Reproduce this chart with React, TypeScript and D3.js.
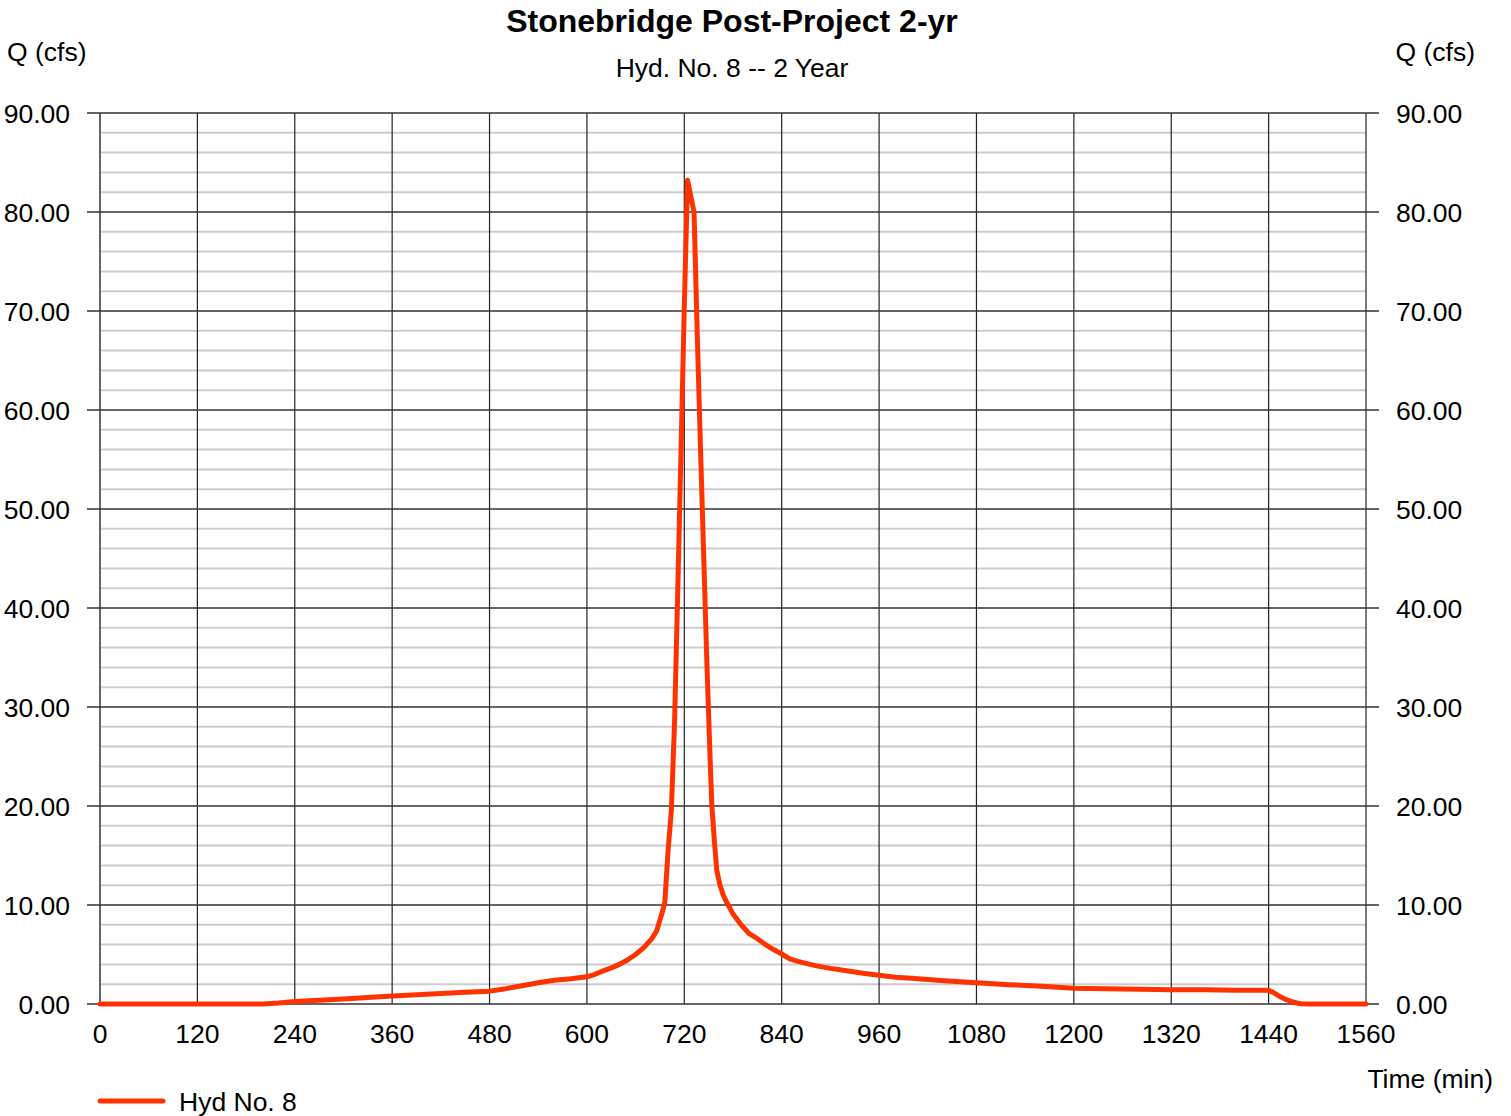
import React from "react";
import * as d3 from "d3";

// Hydrograph ordinates: time (min) and flow Q (cfs)
const timeMin = [
  0, 100, 200, 220, 240, 270, 300, 330, 360, 390, 420, 450, 480, 500, 520, 540, 560, 580, 600, 610,
  620, 630, 640, 650, 660, 670, 680, 686, 690, 694, 696, 700, 704, 708, 712, 716, 720, 724, 728, 732,
  736, 740, 744, 748, 752, 754, 757, 760, 764, 768, 772, 776, 780, 790, 800, 810, 820, 830, 840, 850,
  860, 880, 900, 920, 940, 960, 980, 1000, 1040, 1080, 1120, 1160, 1200, 1240, 1280, 1320, 1360, 1400,
  1440, 1445, 1450, 1455, 1460, 1465, 1470, 1475, 1480, 1490, 1560,
];
const flowCfs = [
  0, 0, 0, 0.1, 0.25, 0.38, 0.5, 0.65, 0.8, 0.93, 1.05, 1.18, 1.3, 1.55, 1.85, 2.15, 2.4, 2.55, 2.75, 3.0,
  3.35, 3.65, 4.0, 4.45, 5.0, 5.7, 6.6, 7.4, 8.5, 9.6, 10.3, 15.5, 19.5, 28.5, 42, 56, 70.5, 83.2, 81.6, 80,
  67.5, 56, 45, 34, 24.3, 20, 16.5, 13.5, 12.0, 11.0, 10.3, 9.7, 9.1, 8.0, 7.1, 6.6, 6.0, 5.5, 5.05, 4.55,
  4.3, 3.9, 3.6, 3.35, 3.1, 2.9, 2.7, 2.6, 2.35, 2.15, 1.95, 1.8, 1.6, 1.55, 1.5, 1.45, 1.43, 1.4,
  1.38, 1.2, 0.95, 0.7, 0.5, 0.35, 0.2, 0.1, 0.03, 0, 0,
];

const xTicks = [0, 120, 240, 360, 480, 600, 720, 840, 960, 1080, 1200, 1320, 1440, 1560];
const yMajor = [0, 10, 20, 30, 40, 50, 60, 70, 80, 90];
const yMinor = d3.range(0, 91, 2).filter((v) => v % 10 !== 0);

const title = "Stonebridge Post-Project 2-yr";
const subtitle = "Hyd. No. 8 -- 2 Year";
const seriesName = "Hyd No. 8";

const W = 1511;
const H = 1116;
const left = 100;
const right = 1366;
const top = 113;
const bottom = 1004;
const font = "'Liberation Sans', Arial, Helvetica, sans-serif";
const red = "#ff3300";
const fs = 26.5;

export default function App() {
  const x = d3.scaleLinear().domain([0, 1560]).range([left, right]);
  const y = d3.scaleLinear().domain([0, 90]).range([bottom, top]);
  const pts: [number, number][] = timeMin.map((t, i) => [t, flowCfs[i]]);
  const line = d3
    .line<[number, number]>()
    .x((d) => x(d[0]))
    .y((d) => y(d[1]))
    .curve(d3.curveLinear);

  return (
    <svg
      width={W}
      height={H}
      style={{ position: "absolute", left: 0, top: 0, background: "#fff" }}
      fontFamily={font}
    >
      <rect x={0} y={0} width={W} height={H} fill="#fff" />
      {/* minor horizontal grid */}
      {yMinor.map((v) => (
        <line key={"mn" + v} x1={left} x2={right} y1={y(v)} y2={y(v)} stroke="#cccccc" strokeWidth={2} />
      ))}
      {/* vertical grid */}
      {xTicks.map((t) => (
        <line
          key={"vx" + t}
          x1={x(t)}
          x2={x(t)}
          y1={top}
          y2={bottom}
          stroke={t === 0 ? "#666" : "#222"}
          strokeWidth={t === 0 ? 2 : 1.2}
        />
      ))}
      {/* major horizontal grid with ticks on both sides */}
      {yMajor.map((v) => (
        <line key={"mj" + v} x1={left - 13} x2={right + 13} y1={y(v)} y2={y(v)} stroke="#333" strokeWidth={1.6} />
      ))}

      {/* hydrograph */}
      <path d={line(pts) ?? ""} fill="none" stroke={red} strokeWidth={5} strokeLinejoin="round" strokeLinecap="round" />

      {/* y labels */}
      {yMajor.map((v) => (
        <g key={"yl" + v}>
          <text x={70} y={y(v)} dy="0.36em" textAnchor="end" fontSize={fs} fill="#000">
            {v.toFixed(2)}
          </text>
          <text x={1396} y={y(v)} dy="0.36em" textAnchor="start" fontSize={fs} fill="#000">
            {v.toFixed(2)}
          </text>
        </g>
      ))}
      {/* x labels */}
      {xTicks.map((t) => (
        <text key={"xl" + t} x={x(t)} y={1043} textAnchor="middle" fontSize={fs} fill="#000">
          {t}
        </text>
      ))}

      {/* titles */}
      <text x={732} y={32} textAnchor="middle" fontSize={32} fontWeight="bold" fill="#000">
        {title}
      </text>
      <text x={732} y={77} textAnchor="middle" fontSize={fs} fill="#000">
        {subtitle}
      </text>
      <text x={7} y={61} fontSize={fs} fill="#000">
        Q (cfs)
      </text>
      <text x={1475} y={61} textAnchor="end" fontSize={fs} fill="#000">
        Q (cfs)
      </text>
      <text x={1493} y={1088} textAnchor="end" fontSize={fs} fill="#000">
        Time (min)
      </text>

      {/* legend */}
      <line x1={100} x2={163} y1={1101} y2={1101} stroke={red} strokeWidth={5} strokeLinecap="round" />
      <text x={179} y={1111} fontSize={fs} fill="#000">
        {seriesName}
      </text>
    </svg>
  );
}
